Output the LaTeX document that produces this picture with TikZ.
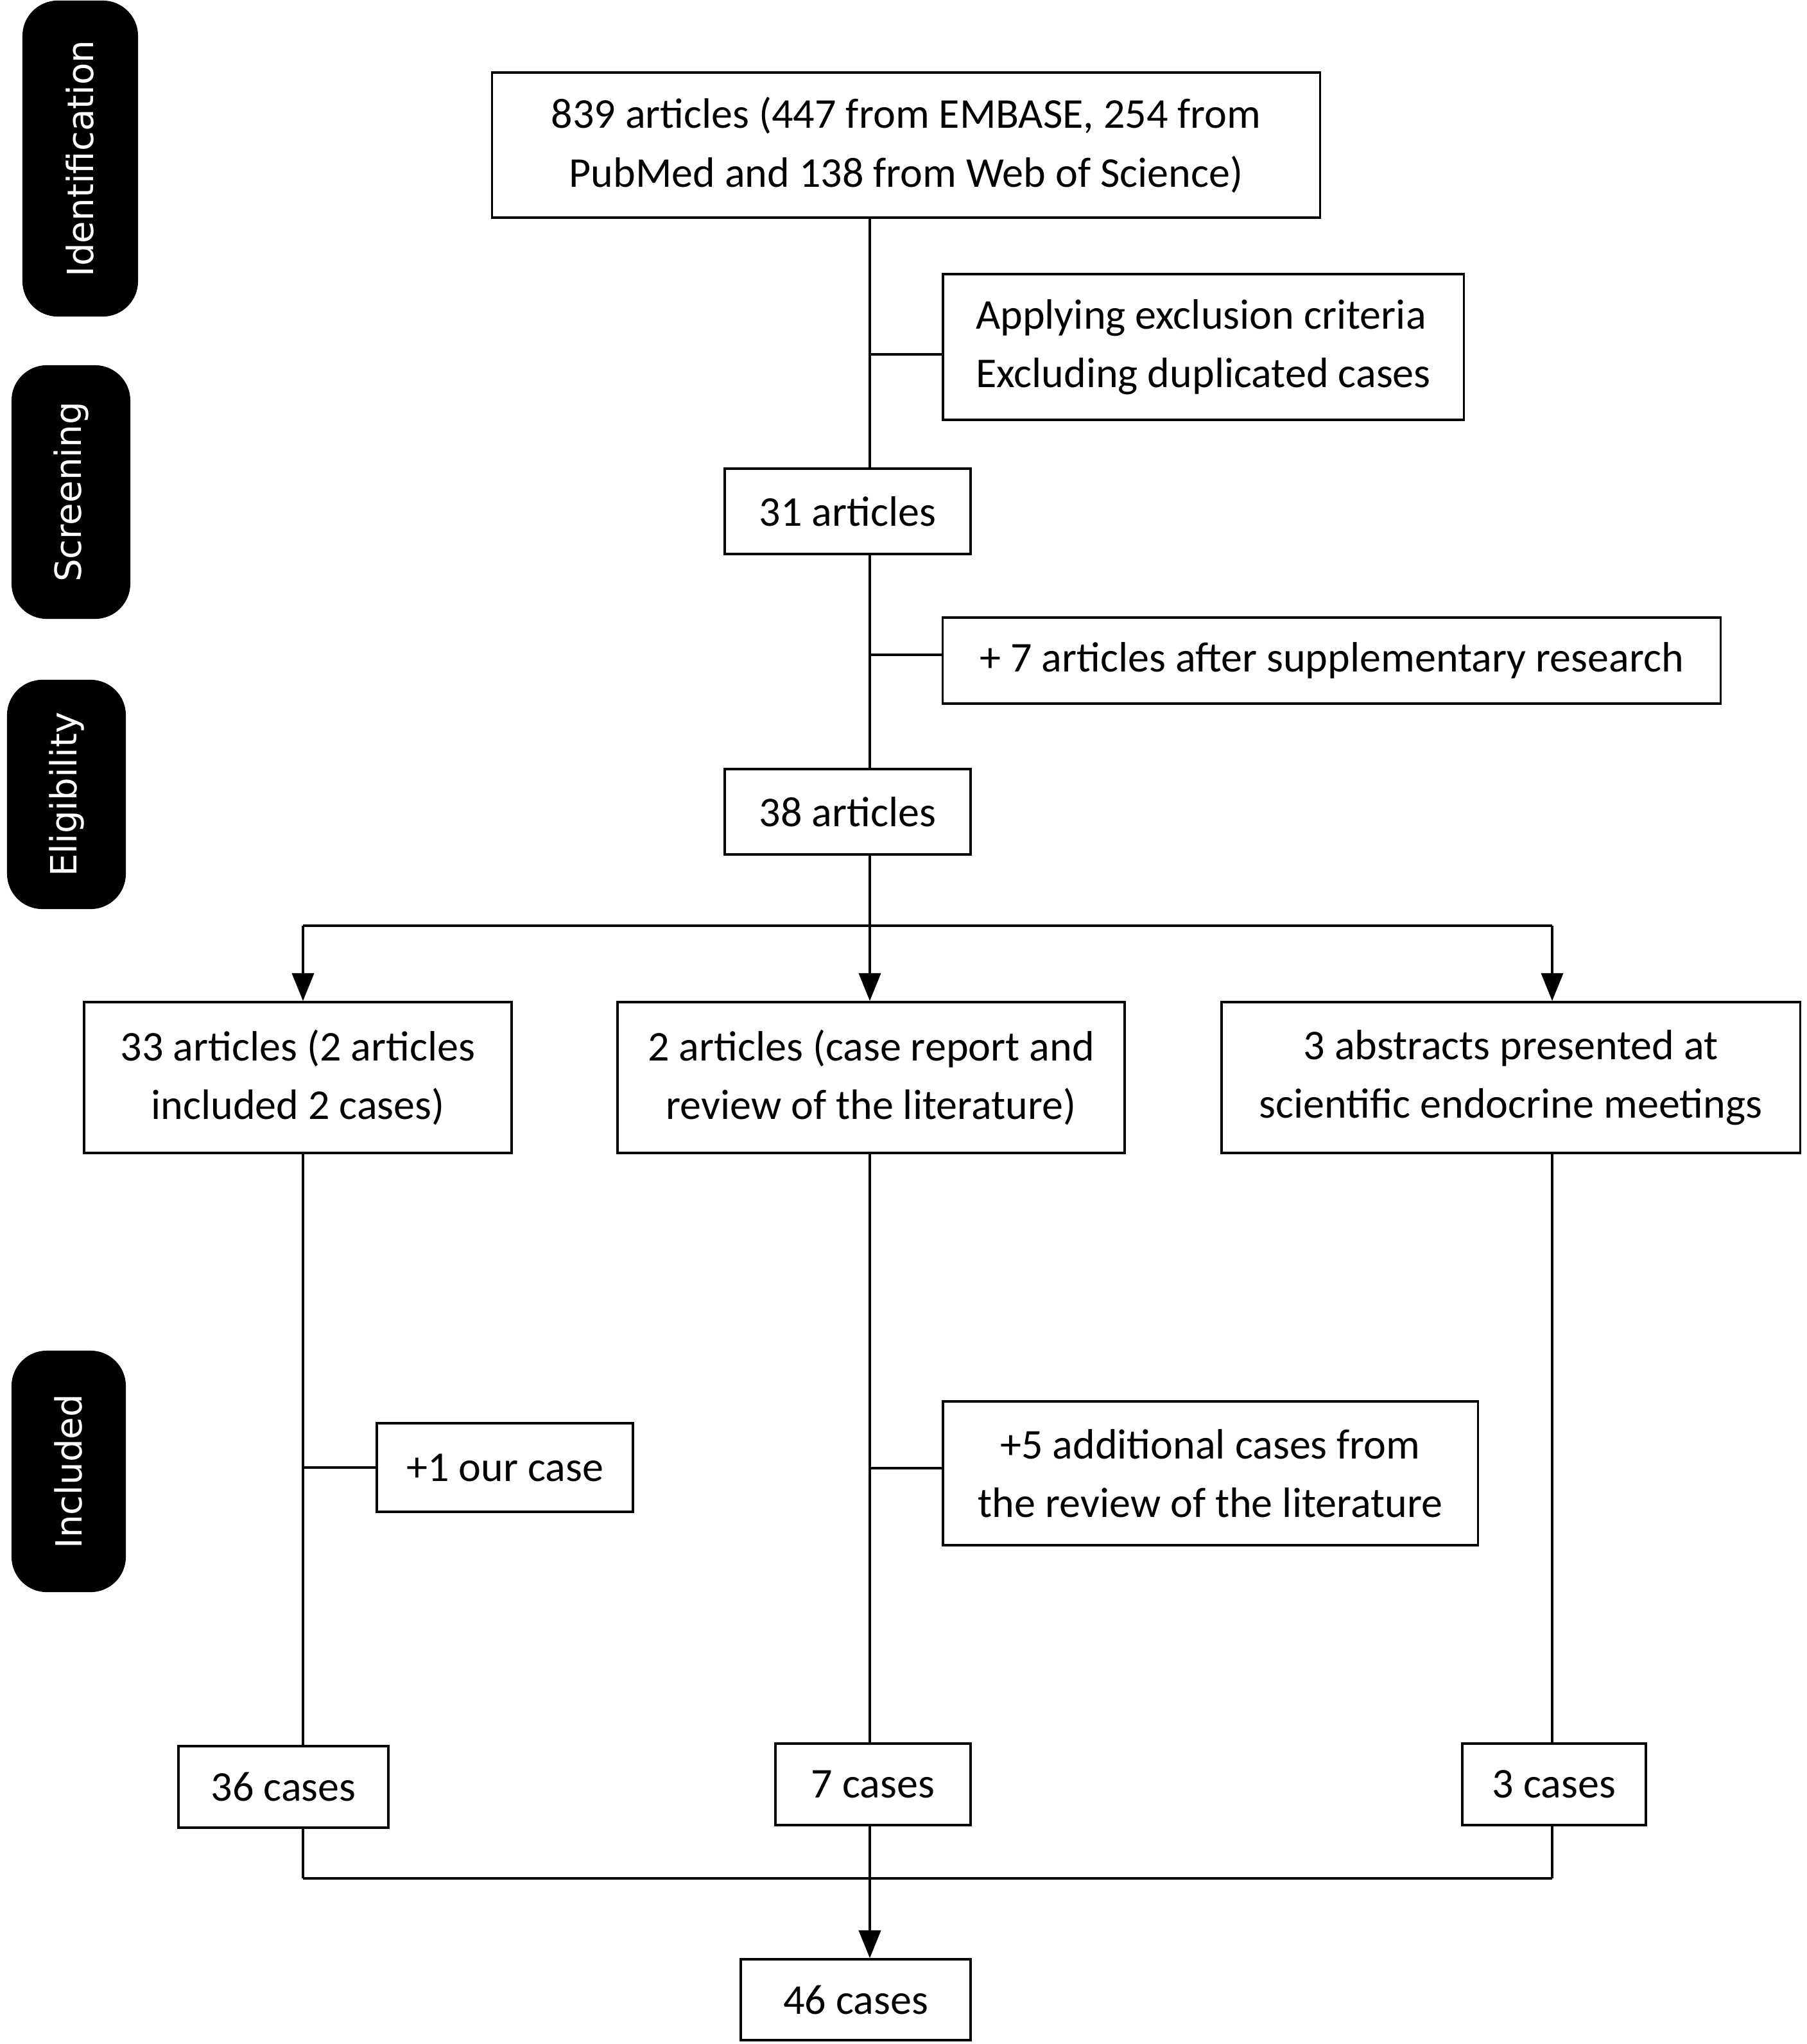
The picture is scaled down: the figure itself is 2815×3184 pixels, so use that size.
\documentclass[tikz,border=0pt]{standalone}
\usepackage{fontspec}
\setmainfont{Carlito}
\newfontfamily\labfont{DejaVu Sans}
\usetikzlibrary{arrows.meta}
\begin{document}
\begin{tikzpicture}[x=0.01cm,y=-0.01cm,
  box/.style={draw, line width=1pt, rectangle, inner sep=0pt, align=center,
    font=\fontsize{18.8}{26}\selectfont},
  phase/.style={fill=black, rounded corners=0.55cm, inner sep=0pt, rotate=90,
    text=white, font=\labfont\fontsize{16}{18}\selectfont},
  conn/.style={line width=1pt},
  arr/.style={line width=1pt, -{Triangle[width=9.7pt,length=12.3pt]}}]
\useasboundingbox (0,0) rectangle (2815,3184);
% phase labels
\node[phase, minimum width=4.92cm, minimum height=1.80cm] (pid) at (125,247) {Identification};
\node[phase, minimum width=3.95cm, minimum height=1.85cm] (psc) at (110.5,766.5) {Screening};
\node[phase, minimum width=3.57cm, minimum height=1.85cm] (pel) at (103.5,1237.5) {Eligibility};
\node[phase, minimum width=3.76cm, minimum height=1.78cm] (pin) at (107,2292) {Included};
% coordinates
\coordinate (xl) at (472,0);
\coordinate (xm) at (1355,0);
\coordinate (xr) at (2418,0);
\coordinate (yb) at (0,1442);
\coordinate (yj) at (0,2926);
% boxes
\node[box, minimum width=12.89cm, minimum height=2.26cm] (top) at (1411.5,226)
  {839 articles (447 from EMBASE, 254 from\\PubMed and 138 from Web of Science)};
\node[box, align=left, minimum width=8.11cm, minimum height=2.27cm] (excl) at (1874.5,540.5)
  {Applying exclusion criteria\\Excluding duplicated cases};
\node[box, minimum width=3.83cm, minimum height=1.33cm] (a31) at (1320.5,796.5) {31 articles};
\node[box, minimum width=12.11cm, minimum height=1.34cm] (sup) at (2074.5,1029)
  {+ 7 articles after supplementary research};
\node[box, minimum width=3.83cm, minimum height=1.33cm] (a38) at (1320.5,1264.5) {38 articles};
\node[box, minimum width=6.66cm, minimum height=2.35cm] (b1) at (464,1678.5)
  {33 articles (2 articles\\included 2 cases)};
\node[box, minimum width=7.90cm, minimum height=2.35cm] (b2) at (1357,1678.5)
  {2 articles (case report and\\review of the literature)};
\node[box, minimum width=9.01cm, minimum height=2.35cm] (b3) at (2353.5,1678.5)
  {3 abstracts presented at\\scientific endocrine meetings};
\node[box, minimum width=3.99cm, minimum height=1.38cm] (our) at (786.5,2286) {+1 our case};
\node[box, minimum width=8.33cm, minimum height=2.24cm] (add) at (1885.5,2295)
  {+5 additional cases from\\the review of the literature};
\node[box, minimum width=3.27cm, minimum height=1.27cm] (c36) at (441.5,2783.5) {36 cases};
\node[box, minimum width=3.04cm, minimum height=1.27cm] (c7) at (1360,2779.5) {7 cases};
\node[box, minimum width=2.86cm, minimum height=1.27cm] (c3) at (2421,2779.5) {3 cases};
\node[box, minimum width=3.58cm, minimum height=1.26cm] (c46) at (1333,3115) {46 cases};
% connectors top
\draw[conn] (top.south -| xm) -- (a31.north -| xm);
\draw[conn] (excl.west |- 0,552) -- (xm |- 0,552);
\draw[conn] (a31.south -| xm) -- (a38.north -| xm);
\draw[conn] (sup.west |- 0,1020) -- (xm |- 0,1020);
\draw[conn] (a38.south -| xm) -- (xm |- yb);
\draw[conn] (xl |- yb) -- (xr |- yb);
\draw[arr] (xl |- yb) -- (b1.north -| xl);
\draw[arr] (xm |- yb) -- (b2.north -| xm);
\draw[arr] (xr |- yb) -- (b3.north -| xr);
% columns
\draw[conn] (b1.south -| xl) -- (c36.north -| xl);
\draw[conn] (b2.south -| xm) -- (c7.north -| xm);
\draw[conn] (b3.south -| xr) -- (c3.north -| xr);
\draw[conn] (our.west) -- (our.west -| xl);
\draw[conn] (add.west |- 0,2287) -- (xm |- 0,2287);
% join
\draw[conn] (c36.south -| xl) -- (xl |- yj);
\draw[conn] (c7.south -| xm) -- (xm |- yj);
\draw[conn] (c3.south -| xr) -- (xr |- yj);
\draw[conn] (xl |- yj) -- (xr |- yj);
\draw[arr] (xm |- yj) -- (c46.north -| xm);
\end{tikzpicture}
\end{document}
